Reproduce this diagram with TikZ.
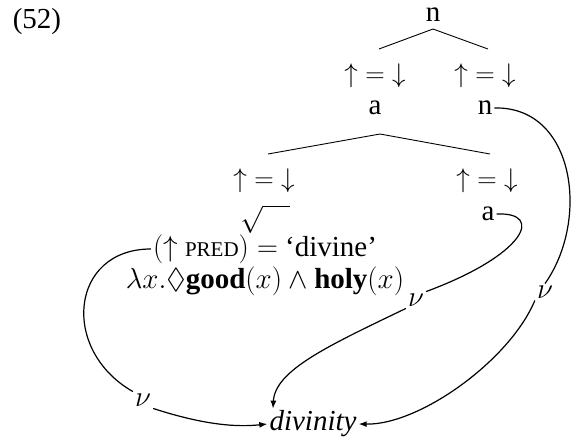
\RequirePackage{fix-cm}
\documentclass[tikz,border=0pt]{standalone}
\usepackage{amsmath,amssymb}
\usepackage{fontspec}
\setmainfont{Liberation Serif}
\usetikzlibrary{arrows.meta}
\newcommand{\eqd}{$\mathord{\uparrow}=\mathord{\downarrow}$}
\begin{document}
\begin{tikzpicture}[x=1pt,y=-1pt,
  every node/.style={font=\fontsize{29}{33}\selectfont, inner sep=2pt},
  eqn/.style={font=\fontsize{27}{31}\selectfont},
  tree/.style={line width=0.9pt},
  link/.style={line width=1.2pt},
  tip/.style={-{Latex[length=8pt,width=6pt]}}]
\useasboundingbox (0,0) rectangle (574,437);
\node (ex) at (37,22) {(52)};
\node (n1) at (433,15) {n};
\node[eqn] (e1) at (375,76) {\eqd};
\node[eqn] (e2) at (485,76) {\eqd};
\node (a1) at (375,108) {a};
\node (n2) at (485,108) {n};
\node[eqn] (e3) at (264,181) {\eqd};
\node[eqn] (e4) at (487,181) {\eqd};
\node[eqn] (rt) at (265,219) {$\sqrt{\vphantom{a}\hspace{27pt}}$};
\node (a2) at (488,214) {a};
\node (pred) at (265,249) {$(\uparrow$ {\fontsize{21}{24}\selectfont PRED}$) =$ `divine'};
\node (lam) at (265,281) {$\lambda x.\Diamond\textbf{good}(x)\wedge\textbf{holy}(x)$};
\node (div) at (313,424) {\textit{divinity}};
\node (nu1) at (143,400) {$\nu$};
\node (nu2) at (416,300) {$\nu$};
\node (nu3) at (545,292) {$\nu$};
% tree lines
\coordinate (t1) at (433,29);
\coordinate (t1l) at (379,49);
\coordinate (t1r) at (488,49);
\coordinate (t2) at (380,134);
\coordinate (t2l) at (268,154);
\coordinate (t2r) at (490,154);
\draw[tree] (t1l) -- (t1) -- (t1r);
\draw[tree] (t2l) -- (t2) -- (t2r);
% links
\draw[link] (pred.west) .. controls (70,249) and (60,350) .. (nu1.north west);
\draw[link,tip] (nu1.south east) .. controls (195,422) and (230,428) .. (div.west);
\draw[link] (a2.east) .. controls (545,212) and (525,255) .. (nu2.north east);
\draw[link,tip] (nu2.south west) .. controls (330,345) and (275,370) .. ([xshift=-40pt]div.north);
\draw[link] (n2.east) .. controls (575,106) and (590,220) .. (nu3.north);
\draw[link,tip] (nu3.south west) .. controls (510,360) and (420,425) .. (div.east);
\end{tikzpicture}
\end{document}
